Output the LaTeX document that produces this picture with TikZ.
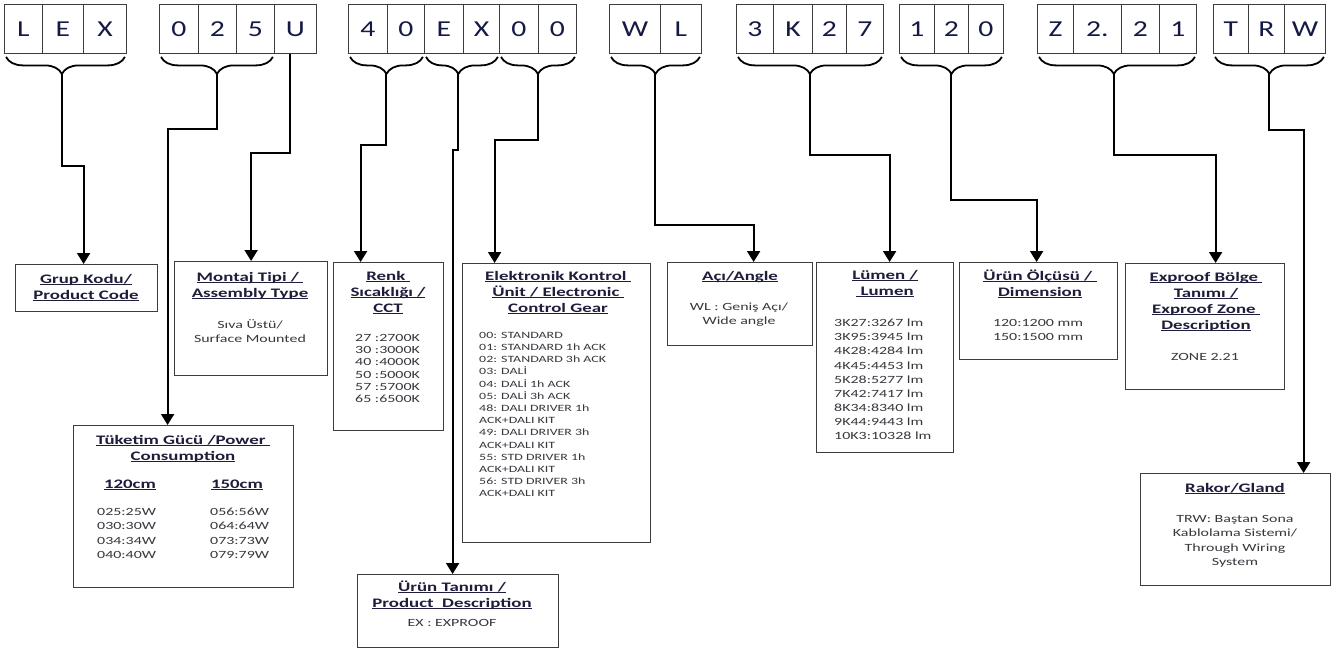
\documentclass[tikz,border=0pt]{standalone}
\usepackage{fontspec}
\setmainfont{Carlito}[FakeStretch=1.45]
\newfontfamily\letfont{Carlito}[FakeStretch=1.3]
\usetikzlibrary{arrows.meta,decorations.pathreplacing,calc}
\definecolor{hdcol}{RGB}{30,30,60}
\definecolor{bdcol}{RGB}{55,55,62}
\definecolor{lettercol}{RGB}{20,25,70}
\definecolor{framecol}{RGB}{60,60,60}
\newcommand\ulx[1]{\setbox0=\hbox{#1}\rlap{\rule[-2pt]{\wd0}{0.9pt}}\box0}
\newcommand\fsh{\rule{0pt}{11pt}}
\newcommand\fsb{\rule{0pt}{10pt}}
\begin{document}
\begin{tikzpicture}[x=1pt,y=-1pt,
  cell/.style={draw=framecol, line width=0.9pt, minimum height=49pt, inner sep=0pt, anchor=north west,
    font=\letfont\fontsize{22.8}{24}\selectfont, text=lettercol},
  box/.style={draw=framecol, line width=1.2pt, anchor=north west, inner sep=0pt},
  hd/.style={anchor=north, inner sep=0pt, align=center, font=\fontsize{13}{16}\selectfont\bfseries, text=hdcol},
  bd/.style={anchor=north, inner sep=0pt, align=center, font=\fontsize{11}{14.2}\selectfont, text=bdcol},
  bdl/.style={anchor=north west, inner sep=0pt, align=left, font=\fontsize{11}{14.2}\selectfont, text=bdcol},
  brc/.style={decorate, decoration={brace, mirror, amplitude=17pt, aspect=#1}, line width=1.8pt},
  brc/.default=0.5,
  conn/.style={line width=2pt, -{Triangle[width=13pt,length=11pt]}}]
\useasboundingbox (0,0) rectangle (1335,648);
\fill[white] (0,0) rectangle (1335,648);

% code letters
\foreach \x/\w/\t/\n in {4/38/L/cL1,42/41/E/cE1,83/43/X/cX1,
  159/39/0/c01,198/38/2/c21,236/38/5/c51,274/42/U/cU,
  348/39/4/c42,387/37/0/c02,424/39/E/cE2,463/36/X/cX2,499/39/0/c03,538/38/0/c04,
  609/51/W/cW1,660/41/L/cL2,
  736/37/3/c33,773/39/K/cK3,812/34/2/c23,846/37/7/c73,
  899/35/1/c14,934/34/2/c24,968/35/0/c04b,
  1037/36/Z/cZ5,1073/48/2./c25,1121/38/2/c25b,1159/37/1/c15,
  1213/35/T/cT6,1248/36/R/cR6,1284/41/W/cW6}
  \node[cell, minimum width=\w pt] (\n) at (\x,4) {\t};

% braces
\draw[brc=0.47] ($(cL1.south west)+(2,3)$) -- ($(cX1.south east)+(-2,3)$);
\draw[brc] ($(c01.south west)+(2,3)$) -- ($(c51.south east)+(-2,3)$);
\draw[brc] ($(c42.south west)+(2,3)$) -- ($(c02.south east)+(-2,3)$);
\draw[brc=0.45] ($(cE2.south west)+(2,3)$) -- ($(cX2.south east)+(-2,3)$);
\draw[brc] ($(c03.south west)+(2,3)$) -- ($(c04.south east)+(-2,3)$);
\draw[brc] ($(cW1.south west)+(2,3)$) -- ($(cL2.south east)+(-2,3)$);
\draw[brc] ($(c33.south west)+(2,3)$) -- ($(c73.south east)+(-2,3)$);
\draw[brc] ($(c14.south west)+(2,3)$) -- ($(c04b.south east)+(-2,3)$);
\draw[brc=0.48] ($(cZ5.south west)+(2,3)$) -- ($(c15.south east)+(-2,3)$);
\draw[brc] ($(cT6.south west)+(2,3)$) -- ($(cW6.south east)+(-2,3)$);

% brace tips
\coordinate (t1) at ($(cL1.south west)!0.47!(cX1.south east)+(0,20)$);
\coordinate (t2) at ($(c01.south west)!0.5!(c51.south east)+(0,20)$);
\coordinate (t3) at ($(c42.south west)!0.5!(c02.south east)+(0,20)$);
\coordinate (t4) at ($(cE2.south west)!0.45!(cX2.south east)+(0,20)$);
\coordinate (t5) at ($(c03.south west)!0.5!(c04.south east)+(0,20)$);
\coordinate (t6) at ($(cW1.south west)!0.5!(cL2.south east)+(0,20)$);
\coordinate (t7) at ($(c33.south west)!0.5!(c73.south east)+(0,20)$);
\coordinate (t8) at ($(c14.south west)!0.5!(c04b.south east)+(0,20)$);
\coordinate (t9) at ($(cZ5.south west)!0.48!(c15.south east)+(0,20)$);
\coordinate (t10) at ($(cT6.south west)!0.5!(cW6.south east)+(0,20)$);
\coordinate (u0) at ([xshift=-5pt]cU.south);

% boxes
\node[box, minimum width=142pt, minimum height=47pt] (grup) at (15,264) {};
\node[box, minimum width=153pt, minimum height=114pt] (montaj) at (174,261) {};
\node[box, minimum width=220pt, minimum height=162pt] (tuketim) at (73,425) {};
\node[box, minimum width=110pt, minimum height=168pt] (renk) at (333,262) {};
\node[box, minimum width=188pt, minimum height=279pt] (elek) at (462,263) {};
\node[box, minimum width=201pt, minimum height=73pt] (urun) at (357,574) {};
\node[box, minimum width=145pt, minimum height=83pt] (aci) at (667,262) {};
\node[box, minimum width=137pt, minimum height=190pt] (lumen) at (816,262) {};
\node[box, minimum width=158pt, minimum height=97pt] (dimen) at (959,262) {};
\node[box, minimum width=159pt, minimum height=126pt] (expr) at (1125,263) {};
\node[box, minimum width=190pt, minimum height=112pt] (rakor) at (1140,473) {};

% connectors
\draw[conn] (t1) -- (t1 |- 0,166) -| ([xshift=-3pt]grup.north);
\draw[conn] (t2) -- (t2 |- 0,129) -| ([xshift=-16pt]tuketim.north);
\draw[conn] (u0) -- (u0 |- 0,153) -| (montaj.north);
\draw[conn] (t3) -- (t3 |- 0,145) -| ([xshift=-28pt]renk.north);
\draw[conn] (t4) -- (t4 |- 0,150) -| ([xshift=-5.5pt]urun.north);
\draw[conn] (t5) -- (t5 |- 0,140) -| ([xshift=-62pt]elek.north);
\draw[conn] (t6) -- (t6 |- 0,225) -| ([xshift=13.5pt]aci.north);
\draw[conn] (t7) -- (t7 |- 0,155) -| ([xshift=4.5pt]lumen.north);
\draw[conn] (t8) -- (t8 |- 0,200) -| ([xshift=-2pt]dimen.north);
\draw[conn] (t9) -- (t9 |- 0,155) -| ([xshift=10.5pt]expr.north);
\draw[conn] (t10) -- (t10 |- 0,130) -| ([xshift=68pt]rakor.north);

% texts
\node[hd] (grupt) at (86,272) {\fsh\ulx{Grup Kodu/}\\\ulx{Product Code}};

\node[hd] (montajt) at (250,270) {\fsh\ulx{Montaj Tipi /\ }\\\ulx{Assembly Type}};
\node[bd] (montajb) at (250,318.5) {\fsb Sıva Üstü/\\Surface Mounted};

\node[hd] (tukt) at (183,433) {\fsh\ulx{Tüketim Gücü /Power\ }\\\ulx{Consumption}};
\node[hd] (tukc1) at (130,477) {\fsh\ulx{120cm}};
\node[hd] (tukc2) at (237,477) {\fsh\ulx{150cm}};
\node[bdl] (tukb1) at (97,505.5) {\fsb 025:25W\\030:30W\\034:34W\\040:40W};
\node[bdl] (tukb2) at (210,505.5) {\fsb 056:56W\\064:64W\\073:73W\\079:79W};

\node[hd] (renkt) at (388,269) {\fsh\ulx{Renk\ }\\\ulx{Sıcaklığı /}\\\ulx{CCT}};
\node[bdl, font=\fontsize{11}{12.1}\selectfont] (renkb) at (355,331.5) {\fsb 27 :2700K\\30 :3000K\\40 :4000K\\50 :5000K\\57 :5700K\\65 :6500K};

\node[hd] (elekt) at (558,269) {\fsh\ulx{Elektronik Kontrol\ }\\\ulx{Ünit / Electronic\ }\\\ulx{Control Gear}};
\node[bdl, font=\fontsize{9.6}{12.2}\selectfont] (elekb) at (479,329) {\rule{0pt}{9pt}00: STANDARD\\01: STANDARD 1h ACK\\02: STANDARD 3h ACK\\03: DALİ\\04: DALİ 1h ACK\\05: DALİ 3h ACK\\48: DALI DRIVER 1h\\ACK+DALI KIT\\49: DALI DRIVER 3h\\ACK+DALI KIT\\55: STD DRIVER 1h\\ACK+DALI KIT\\56: STD DRIVER 3h\\ACK+DALI KIT};

\node[hd] (urunt) at (452,580) {\fsh\ulx{Ürün Tanımı /}\\\ulx{Product\ \ Description}};
\node[bd] (urunb) at (452,616.5) {\fsb EX : EXPROOF};

\node[hd] (acit) at (740,269) {\fsh\ulx{Açı/Angle}};
\node[bd] (acib) at (739,300.5) {\fsb WL : Geniş Açı/\\Wide angle};

\node[hd] (lument) at (885,268) {\fsh\ulx{Lümen /}\\\ulx{\ Lumen}};
\node[bdl, font=\fontsize{11}{14.1}\selectfont] (lumenb) at (834,316.5) {\fsb 3K27:3267 lm\\3K95:3945 lm\\4K28:4284 lm\\4K45:4453 lm\\5K28:5277 lm\\7K42:7417 lm\\8K34:8340 lm\\9K44:9443 lm\\10K3:10328 lm};

\node[hd] (dimt) at (1040,269) {\fsh\ulx{Ürün Ölçüsü /\ }\\\ulx{Dimension}};
\node[bd] (dimb) at (1038,316.5) {\fsb 120:1200 mm\\150:1500 mm};

\node[hd] (exprt) at (1206,270) {\fsh\ulx{Exproof Bölge\ }\\\ulx{Tanımı /}\\\ulx{Exproof Zone\ }\\\ulx{Description}};
\node[bd] (exprb) at (1205,350.5) {\fsb ZONE 2.21};

\node[hd] (rakort) at (1235,481) {\fsh\ulx{Rakor/Gland}};
\node[bd] (rakorb) at (1235,512.5) {\fsb TRW: Baştan Sona\\Kablolama Sistemi/\\Through Wiring\\System};
\end{tikzpicture}
\end{document}
